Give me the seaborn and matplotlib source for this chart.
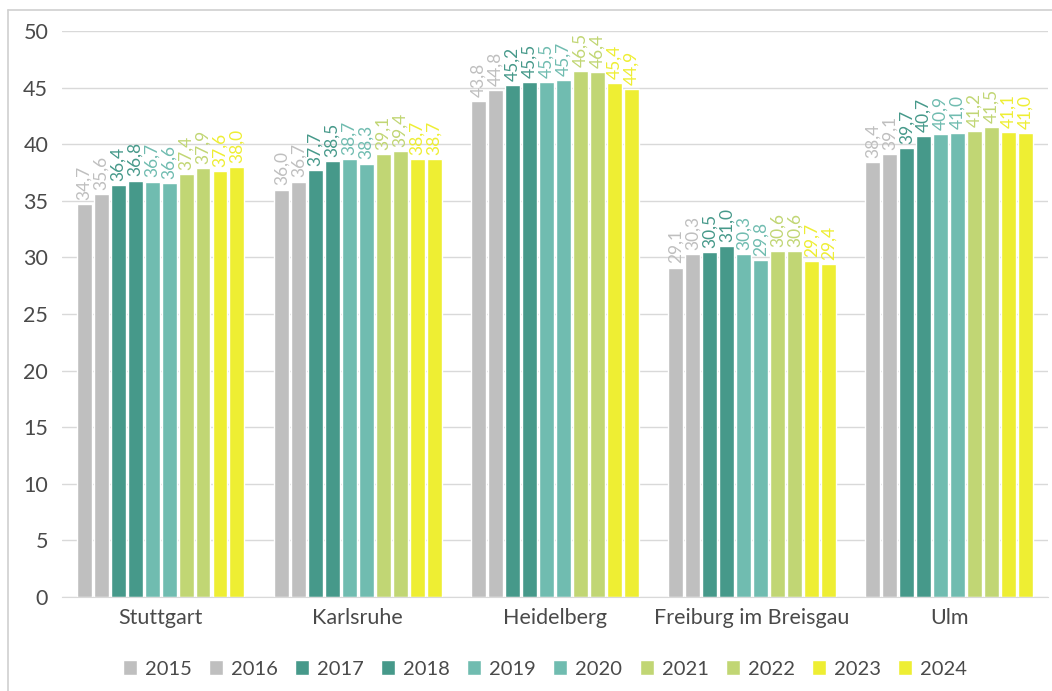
import pandas as pd
import seaborn as sns
from matplotlib import pyplot as plt
from matplotlib.lines import Line2D

cities = ["Stuttgart", "Karlsruhe", "Heidelberg", "Freiburg im Breisgau", "Ulm"]
years = ["2015", "2016", "2017", "2018", "2019", "2020", "2021", "2022", "2023", "2024"]
stuttgart = [34.7, 35.6, 36.4, 36.8, 36.7, 36.6, 37.4, 37.9, 37.6, 38.0]
karlsruhe = [36.0, 36.7, 37.7, 38.5, 38.7, 38.3, 39.1, 39.4, 38.7, 38.7]
heidelberg = [43.8, 44.8, 45.2, 45.5, 45.5, 45.7, 46.5, 46.4, 45.4, 44.9]
freiburg = [29.1, 30.3, 30.5, 31.0, 30.3, 29.8, 30.6, 30.6, 29.7, 29.4]
ulm = [38.4, 39.1, 39.7, 40.7, 40.9, 41.0, 41.2, 41.5, 41.1, 41.0]
colors = ["#bfbfbf", "#bfbfbf", "#46998a", "#46998a", "#70bcb0", "#70bcb0",
          "#c1d674", "#c1d674", "#eeee33", "#eeee33"]

rows = []
for city, vals in zip(cities, [stuttgart, karlsruhe, heidelberg, freiburg, ulm]):
    for yr, v in zip(years, vals):
        rows.append({"city": city, "year": yr, "value": v})
df = pd.DataFrame(rows)

sns.set_style("white")
plt.rcParams['font.family'] = ['Lato', 'DejaVu Sans']

fig = plt.figure(figsize=(10.52, 6.91), dpi=100)
ax = fig.add_axes([0.059, 0.136, 0.937, 0.819])

# screenshot frame (left and top edge only)
fig.add_artist(Line2D([8 / 1052, 8 / 1052], [0, 1 - 10 / 691], transform=fig.transFigure,
                      color="#d0d0d0", linewidth=1.2))
fig.add_artist(Line2D([8 / 1052, 1], [1 - 10 / 691, 1 - 10 / 691], transform=fig.transFigure,
                      color="#d0d0d0", linewidth=1.2))

sns.barplot(data=df, x="city", y="value", hue="year", palette=colors,
            width=0.86, gap=0.12, ax=ax, legend=True, saturation=1)

for cont, col in zip(ax.containers, colors):
    labels = [f"{v:.1f}".replace(".", ",") for v in cont.datavalues]
    ax.bar_label(cont, labels=labels, rotation=90, padding=3, color=col,
                 fontsize=12.5)

ax.set_ylim(0, 50)
ax.set_yticks(range(0, 51, 5))
ax.yaxis.grid(True, color="#d9d9d9", linewidth=1)
ax.set_axisbelow(True)
for s in ["top", "right", "left"]:
    ax.spines[s].set_visible(False)
ax.spines["bottom"].set_color("#d9d9d9")
ax.set_xlabel("")
ax.set_ylabel("")
ax.tick_params(axis="both", length=0, labelsize=15.5, colors="#4a4a4a", pad=8)
ax.tick_params(axis="y", pad=10)

ax.legend(loc="upper center", bbox_to_anchor=(0.49, -0.08), ncol=10, frameon=False,
          fontsize=14.5, handlelength=0.7, handleheight=0.7, handletextpad=0.4,
          columnspacing=0.85, labelcolor="#4a4a4a")

fig.savefig("out.png", dpi=100)
